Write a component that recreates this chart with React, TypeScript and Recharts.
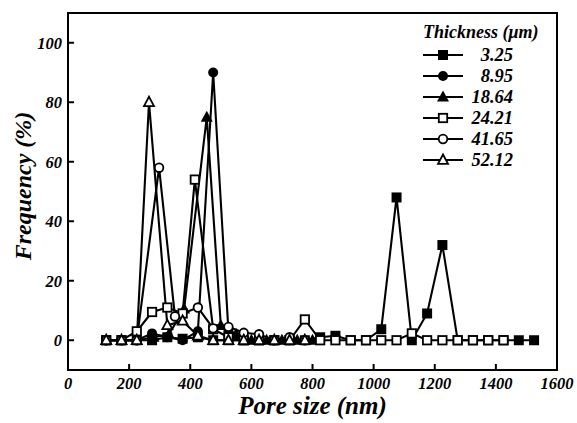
import React from "react";
import { LineChart, Line, XAxis, YAxis, ReferenceArea } from "recharts";

// pore size (nm) and frequency (%) for each film thickness (µm)
const labels = ["3.25", "8.95", "18.64", "24.21", "41.65", "52.12"];

const x325 = [125, 175, 225, 275, 325, 375, 425, 475, 525, 575, 625, 675, 725, 775, 825, 875, 925, 975, 1025, 1075, 1125, 1175, 1225, 1275, 1325, 1375, 1425, 1475, 1525];
const y325 = [0, 0, 0, 0, 1, 0.5, 1, 0, 0, 0, 0, 0, 0, 0, 1, 1.5, 0, 0, 3.7, 48, 0, 9, 32, 0, 0, 0, 0, 0, 0];

const x895 = [125, 175, 225, 275, 325, 375, 425, 475, 525, 575, 625, 675, 725, 775];
const y895 = [0, 0, 0, 2.3, 1, 0, 3, 90, 3, 0, 0, 0, 0, 0];

const x1864 = [125, 175, 225, 280, 330, 380, 454, 500, 550, 600, 650, 700, 750, 800];
const y1864 = [0, 0, 0, 1, 2, 10.5, 75, 5, 2, 0, 0, 0, 0, 0];

const x2421 = [125, 175, 225, 275, 325, 375, 415, 475, 525, 575, 625, 675, 725, 775, 825, 875, 925, 975, 1025, 1075, 1125, 1175, 1225, 1275, 1325, 1375, 1425];
const y2421 = [0, 0, 3, 9.5, 11, 9, 54, 3.7, 1, 0, 0, 0, 0, 7, 0, 0, 0, 0, 0, 0, 2.3, 0, 0, 0, 0, 0, 0];

const x4165 = [125, 175, 225, 298, 350, 425, 475, 525, 575, 625, 675, 725, 775];
const y4165 = [0, 0, 0, 58, 8, 11, 4, 4.5, 2.5, 2, 0, 1, 0];

const x5212 = [125, 175, 225, 265, 325, 375, 425, 475, 525, 575, 625, 675, 725, 775];
const y5212 = [0, 0, 0, 80, 5, 6.5, 1.5, 0, 0, 0, 0, 0, 0, 0];

const xTicks = [0, 200, 400, 600, 800, 1000, 1200, 1400, 1600];
const yTicks = [0, 20, 40, 60, 80, 100];

const toPoints = (xs: number[], ys: number[]) => xs.map((x, i) => ({ x, y: ys[i] }));

const series = [
  { name: labels[0], kind: "square", filled: true, data: toPoints(x325, y325) },
  { name: labels[1], kind: "circle", filled: true, data: toPoints(x895, y895) },
  { name: labels[2], kind: "triangle", filled: true, data: toPoints(x1864, y1864) },
  { name: labels[3], kind: "square", filled: false, data: toPoints(x2421, y2421) },
  { name: labels[4], kind: "circle", filled: false, data: toPoints(x4165, y4165) },
  { name: labels[5], kind: "triangle", filled: false, data: toPoints(x5212, y5212) },
];

const FONT = "'Liberation Serif', 'DejaVu Serif', serif";

function Marker({ cx, cy, kind, filled }: { cx: number; cy: number; kind: string; filled: boolean }) {
  const fill = filled ? "#000" : "#fff";
  const sw = filled ? 0 : 1.8;
  if (kind === "square") {
    const h = filled ? 5 : 4.2;
    return <rect x={cx - h} y={cy - h} width={h * 2} height={h * 2} fill={fill} stroke="#000" strokeWidth={sw} />;
  }
  if (kind === "circle") {
    return <circle cx={cx} cy={cy} r={filled ? 5 : 4.3} fill={fill} stroke="#000" strokeWidth={sw} />;
  }
  const pts = filled
    ? `${cx},${cy - 6.5} ${cx - 6},${cy + 4.5} ${cx + 6},${cy + 4.5}`
    : `${cx},${cy - 5.5} ${cx - 5},${cy + 3.8} ${cx + 5},${cy + 3.8}`;
  return <polygon points={pts} fill={fill} stroke="#000" strokeWidth={sw} strokeLinejoin="miter" />;
}

// legend drawn as a small overlay in the top right corner of the plot
function LegendBox() {
  return (
    <svg width={150} height={160} style={{ position: "absolute", left: 420, top: 19, overflow: "visible" }}>
      <text x={3} y={19} fontFamily={FONT} fontWeight="bold" fontStyle="italic" fontSize={18} fill="#000">
        Thickness (μm)
      </text>
      {series.map((s, i) => {
        const cy = 36 + i * 21;
        return (
          <g key={s.name}>
            <line x1={3} x2={43} y1={cy} y2={cy} stroke="#000" strokeWidth={2.2} />
            <Marker cx={23} cy={cy} kind={s.kind} filled={s.filled} />
            <text x={93} y={cy + 6} textAnchor="end" fontFamily={FONT} fontWeight="bold" fontStyle="italic" fontSize={18.5} fill="#000">
              {s.name}
            </text>
          </g>
        );
      })}
    </svg>
  );
}

const tickStyle = { fontFamily: FONT, fontWeight: "bold", fontStyle: "italic", fontSize: 16.5, fill: "#000" };

export default function App() {
  return (
    <div style={{ position: "absolute", left: 0, top: 0, width: 577, height: 423, background: "#fff" }}>
      <LineChart width={577} height={423} margin={{ top: 13, right: 20, bottom: 0, left: 0 }}>
        <XAxis
          dataKey="x"
          type="number"
          domain={[0, 1600]}
          ticks={xTicks}
          allowDataOverflow
          height={53}
          tickSize={-6}
          tickMargin={13}
          axisLine={{ stroke: "#000", strokeWidth: 2 }}
          tickLine={{ stroke: "#000", strokeWidth: 2 }}
          tick={tickStyle}
          label={{
            value: "Pore size (nm)",
            position: "insideBottom",
            offset: 9,
            style: { fontFamily: FONT, fontWeight: "bold", fontStyle: "italic", fontSize: 25, fill: "#000" },
          }}
        />
        <YAxis
          type="number"
          domain={[-10, 110]}
          ticks={yTicks}
          allowDataOverflow
          width={68}
          tickSize={-6}
          tickMargin={12}
          axisLine={{ stroke: "#000", strokeWidth: 2 }}
          tickLine={{ stroke: "#000", strokeWidth: 2 }}
          tick={tickStyle}
          label={() => (
            <text
              x={31}
              y={186}
              transform="rotate(-90 31 186)"
              textAnchor="middle"
              fontFamily={FONT}
              fontWeight="bold"
              fontStyle="italic"
              fontSize={24}
              fill="#000"
            >
              Frequency (%)
            </text>
          )}
        />
        <ReferenceArea x1={0} x2={1600} y1={-10} y2={110} fill="none" stroke="#000" strokeWidth={2} ifOverflow="visible" />
        {series.map((s) => (
          <Line
            key={s.name}
            name={s.name}
            data={s.data}
            dataKey="y"
            stroke="#000"
            strokeWidth={2.1}
            isAnimationActive={false}
            dot={(p: any) => (
              <Marker key={`${s.name}-${p.index}`} cx={p.cx} cy={p.cy} kind={s.kind} filled={s.filled} />
            )}
            activeDot={false}
          />
        ))}
      </LineChart>
      <LegendBox />
    </div>
  );
}
